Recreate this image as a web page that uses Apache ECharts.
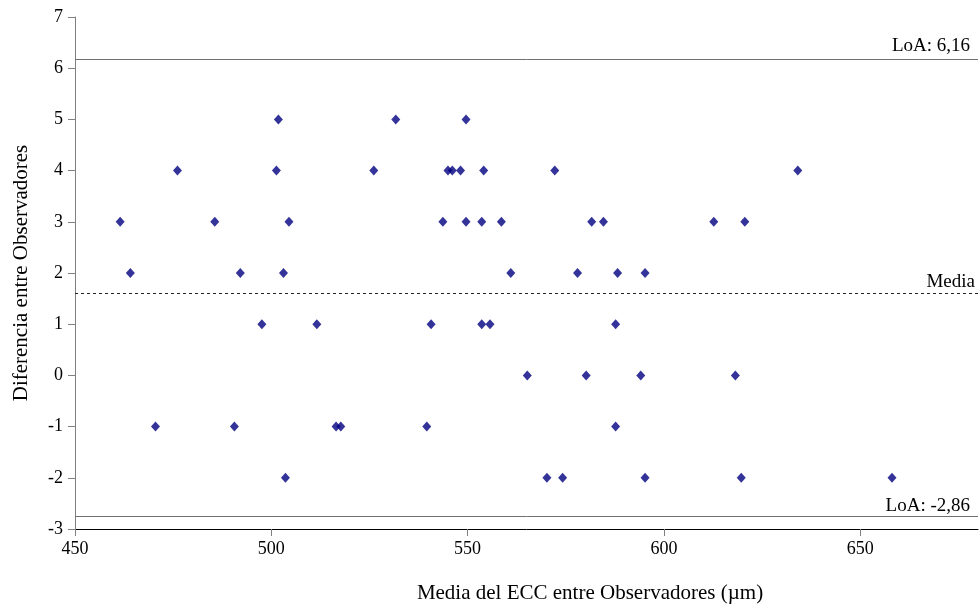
<!DOCTYPE html>
<html>
<head>
<meta charset="utf-8">
<script src="https://cdn.jsdelivr.net/npm/echarts@6/dist/echarts.min.js"></script>
<style>
html,body{margin:0;padding:0;background:#fff;}
#chart{width:980px;height:608px;}
</style>
</head>
<body>
<div id="chart"></div>
<script>
// Bland-Altman data: mean of both observers (µm) and difference between observers
const meanValues = [
  501.8, 531.7, 549.6,
  476.1, 501.3, 526.1, 545.0, 546.1, 548.2, 554.1, 572.2, 634.1,
  461.5, 485.6, 504.5, 543.7, 549.6, 553.6, 558.6, 581.6, 584.6, 612.7, 620.6,
  464.1, 492.1, 503.1, 561.0, 578.0, 588.2, 595.2,
  497.6, 511.6, 540.7, 553.6, 555.7, 587.7,
  565.2, 580.2, 594.1, 618.2,
  470.5, 490.6, 516.5, 517.7, 539.6, 587.7,
  503.6, 570.2, 574.2, 595.2, 619.7, 658.1
];
const diffValues = [
  5, 5, 5,
  4, 4, 4, 4, 4, 4, 4, 4, 4,
  3, 3, 3, 3, 3, 3, 3, 3, 3, 3, 3,
  2, 2, 2, 2, 2, 2, 2,
  1, 1, 1, 1, 1, 1,
  0, 0, 0, 0,
  -1, -1, -1, -1, -1, -1,
  -2, -2, -2, -2, -2, -2
];
// reference lines: where they are drawn in the picture, and their printed labels
const upperLoA = 6.18;
const meanDiff = 1.6;
const lowerLoA = -2.75;
const upperLabel = 'LoA: 6,16';
const lowerLabel = 'LoA: -2,86';
const meanLabel = 'Media';
const xTicks = [450, 500, 550, 600, 650];
const yTicks = [-3, -2, -1, 0, 1, 2, 3, 4, 5, 6, 7];
const xTitle = 'Media del ECC entre Observadores (µm)';
const yTitle = 'Diferencia entre Observadores';

const FONT = '"Liberation Serif", "Times New Roman", serif';
const points = meanValues.map((m, i) => [m, diffValues[i]]);

const chart = echarts.init(document.getElementById('chart'), null, {renderer: 'canvas'});
chart.setOption({
  animation: false,
  backgroundColor: '#ffffff',
  textStyle: {fontFamily: FONT},
  grid: {left: 75, right: 2, top: 17, bottom: 79, containLabel: false},
  xAxis: {
    type: 'value',
    min: 450, max: 680, interval: 50,
    axisLine: {show: true, onZero: false, lineStyle: {color: '#000', width: 1}},
    axisTick: {show: true, length: 7, inside: false, customValues: xTicks, lineStyle: {color: '#808080'}},
    axisLabel: {customValues: xTicks, color: '#000', fontFamily: FONT, fontSize: 18, margin: 11},
    splitLine: {show: false}
  },
  yAxis: {
    type: 'value',
    min: yTicks[0], max: yTicks[yTicks.length - 1], interval: 1,
    name: yTitle,
    nameLocation: 'middle',
    nameRotate: 90,
    nameGap: 43,
    nameTextStyle: {color: '#000', fontFamily: FONT, fontSize: 21},
    axisLine: {show: true, onZero: false, lineStyle: {color: '#808080', width: 1}},
    axisTick: {show: true, length: 7, lineStyle: {color: '#808080'}},
    axisLabel: {color: '#000', fontFamily: FONT, fontSize: 18, margin: 12},
    splitLine: {show: false}
  },
  graphic: [{
    type: 'text',
    x: 590, y: 593,
    style: {text: xTitle, fill: '#000', font: '21px ' + FONT, textAlign: 'center', textVerticalAlign: 'middle'}
  }],
  series: [{
    type: 'scatter',
    data: points,
    symbol: 'diamond',
    symbolSize: [9, 10],
    itemStyle: {color: '#000080'},
    markLine: {
      silent: true,
      symbol: ['none', 'none'],
      data: [
        {yAxis: upperLoA, lineStyle: {color: '#707070', width: 1, type: 'solid'},
          label: {formatter: upperLabel, distance: [8, 3]}},
        {yAxis: meanDiff, lineStyle: {color: '#222', width: 1, type: [3, 3]},
          label: {formatter: meanLabel, distance: [3, 2]}},
        {yAxis: lowerLoA, lineStyle: {color: '#707070', width: 1, type: 'solid'},
          label: {formatter: lowerLabel, distance: [8, 1]}}
      ],
      label: {position: 'insideEndTop', color: '#000', fontFamily: FONT, fontSize: 19}
    }
  }]
});
</script>
</body>
</html>
